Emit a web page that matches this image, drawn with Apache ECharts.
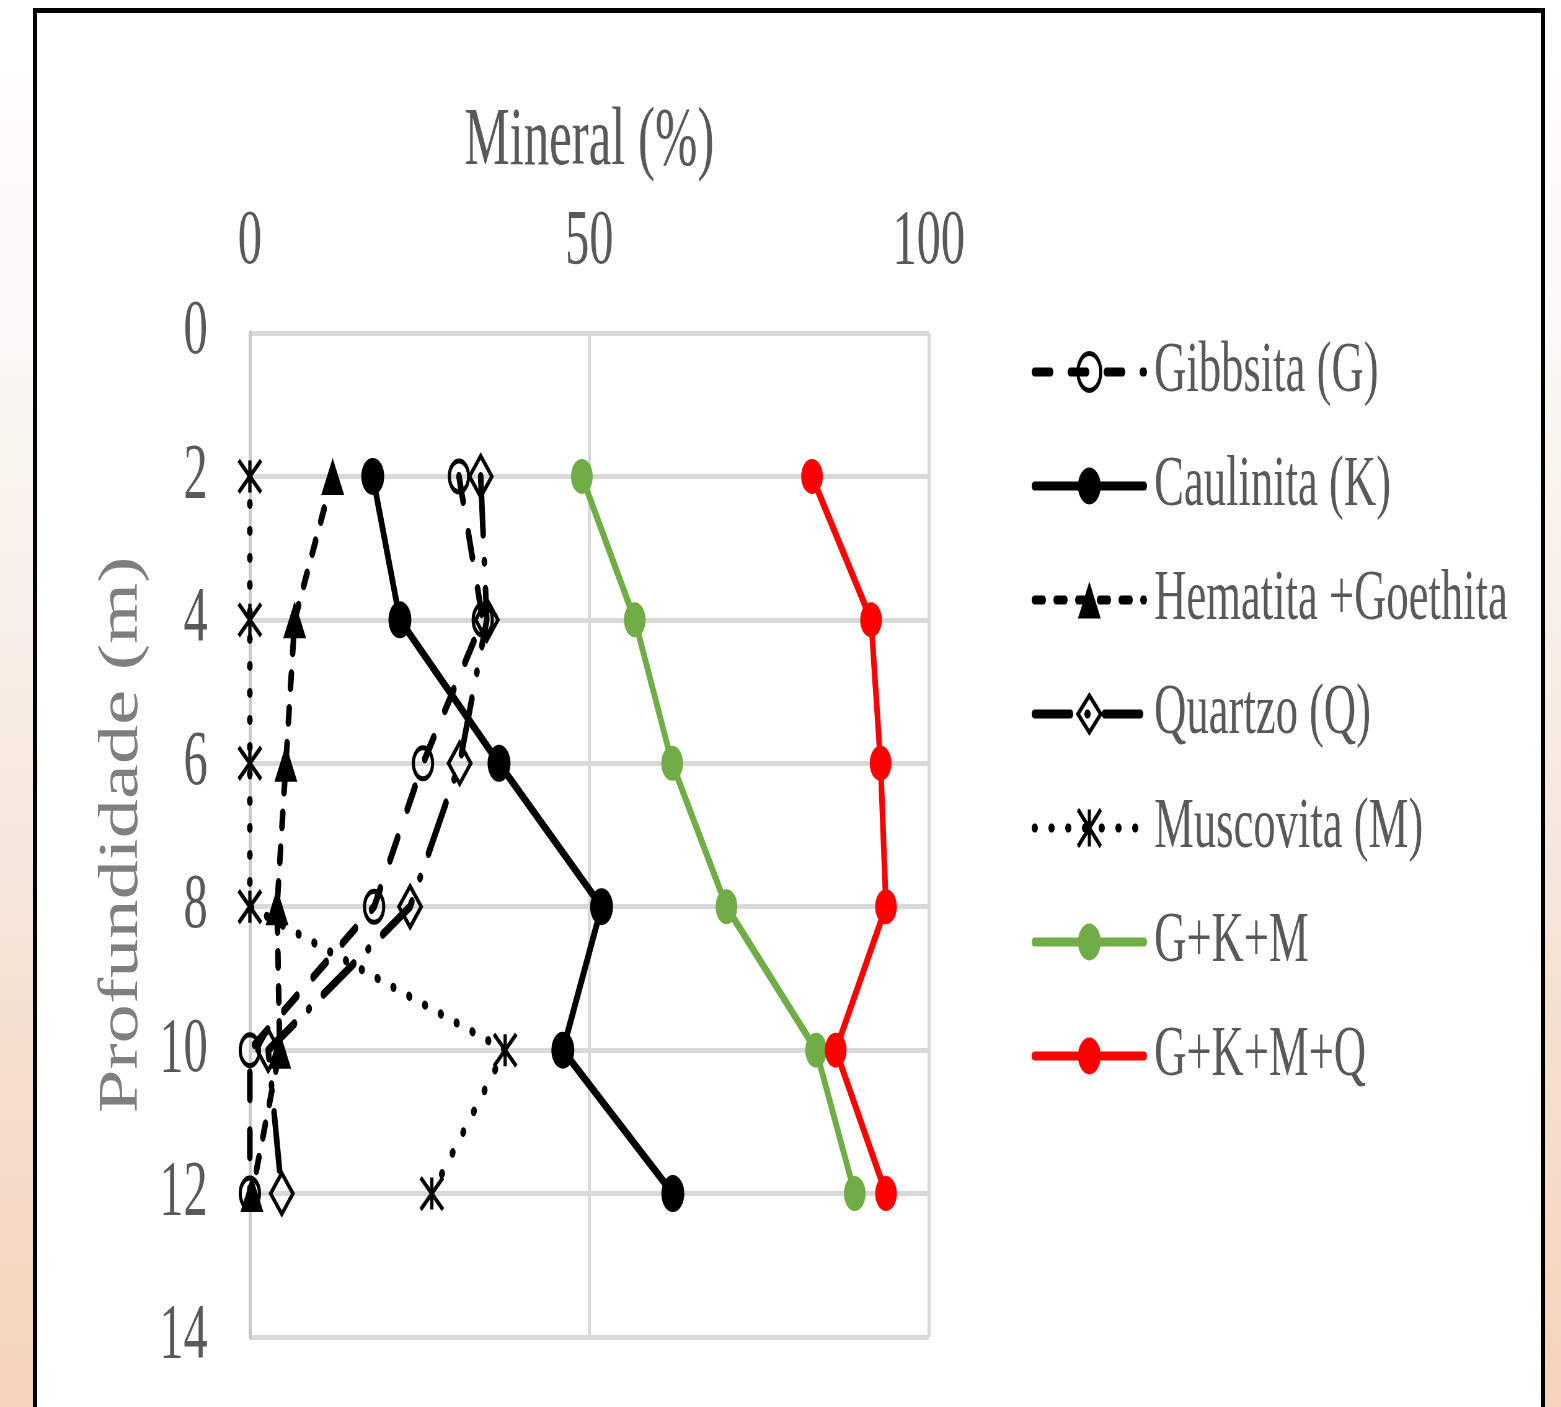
<!DOCTYPE html>
<html>
<head>
<meta charset="utf-8">
<title>Mineral (%) x Profundidade (m)</title>
<script src="https://cdn.jsdelivr.net/npm/echarts@6/dist/echarts.min.js"></script>
<style>
  html, body {
    margin: 0; padding: 0; width: 1561px; height: 1407px; overflow: hidden;
    background: linear-gradient(to bottom, #ffffff 0%, #fcf9f6 22%, #f5e8de 58%, #f6d3ba 100%);
  }
  #frame {
    position: absolute; left: 33px; top: 8px; width: 1504px; height: 1460px;
    background: #ffffff; border-style: solid; border-color: #000000;
    border-width: 5px 4px 0 4px;
  }
  /* the chart is laid out wide and then condensed horizontally */
  #chart {
    position: absolute; left: 0; top: 0; width: 2518px; height: 1407px;
    transform-origin: 0 0; transform: scaleX(0.62);
  }
</style>
</head>
<body>
<div id="frame"></div>
<div id="chart"></div>
<script>
// Depth of each sample (m)
const depths = [2, 4, 6, 8, 10, 12];

// Mineral content (%) at each depth
const gibbsita = [30.8, 34.3, 25.5, 18.3, 0, 0];
const caulinita = [18.1, 22.1, 36.7, 51.8, 46.1, 62.3];
const hematitaGoethita = [12.2, 6.6, 5.3, 4.0, 4.4, 0.3];
const quartzo = [34.0, 34.9, 30.9, 23.6, 2.7, 4.7];
const muscovita = [0, 0, 0, 0, 37.6, 26.8];
const somaGKM = [48.9, 56.7, 62.2, 70.2, 83.4, 89.1];
const somaGKMQ = [82.8, 91.5, 92.9, 93.7, 86.3, 93.7];

// Axis ticks
const mineralTicks = [0, 50, 100];
const depthTicks = [0, 2, 4, 6, 8, 10, 12, 14];

const FONT = '"Liberation Serif", "Times New Roman", serif';
const TEXT = '#595959';
const GRID = '#d9d9d9';
const LINE_W = 9;
const ASTERISK = 'path://M0,0L20,20M20,0L0,20M10,0L10,20';

const pairs = vals => vals.map((v, i) => [v, depths[i]]);

const hollow = { color: 'transparent', borderColor: '#000', borderWidth: 5 };

const seriesDefs = [
  { name: 'Gibbsita (G)', values: gibbsita, symbol: 'circle', size: 31,
    itemStyle: hollow, line: { color: '#000', type: [26, 32] } },
  { name: 'Caulinita (K)', values: caulinita, symbol: 'circle', size: 37,
    itemStyle: { color: '#000' }, line: { color: '#000', type: 'solid' } },
  { name: 'Hematita +Goethita', values: hematitaGoethita, symbol: 'triangle', size: 37,
    itemStyle: { color: '#000' }, line: { color: '#000', type: [14, 21] } },
  { name: 'Quartzo (Q)', values: quartzo, symbol: 'diamond', size: [36, 41],
    itemStyle: hollow, line: { color: '#000', type: [58, 27, 1, 27] } },
  { name: 'Muscovita (M)', values: muscovita, symbol: ASTERISK, size: [36, 32],
    itemStyle: hollow, line: { color: '#000', type: [1, 26] } },
  { name: 'G+K+M', values: somaGKM, symbol: 'circle', size: 35,
    itemStyle: { color: '#70AD47' }, line: { color: '#70AD47', type: 'solid' } },
  { name: 'G+K+M+Q', values: somaGKMQ, symbol: 'circle', size: 35,
    itemStyle: { color: '#FF0000' }, line: { color: '#FF0000', type: 'solid' } }
];

const chart = echarts.init(document.getElementById('chart'), null, { renderer: 'canvas' });

const option = {
  animation: false,
  backgroundColor: 'transparent',
  grid: { left: 403, top: 333, width: 1095, height: 1004, containLabel: false },
  xAxis: {
    type: 'value', position: 'top',
    min: mineralTicks[0], max: mineralTicks[mineralTicks.length - 1],
    interval: mineralTicks[1] - mineralTicks[0],
    name: 'Mineral (%)', nameLocation: 'middle', nameGap: 150,
    nameTextStyle: { fontFamily: FONT, fontSize: 82, color: TEXT },
    axisLine: { show: false }, axisTick: { show: false },
    axisLabel: { fontFamily: FONT, fontSize: 78, color: TEXT, margin: 51 },
    splitLine: { show: true, lineStyle: { color: GRID, width: 5 } }
  },
  yAxis: {
    type: 'value', inverse: true,
    min: depthTicks[0], max: depthTicks[depthTicks.length - 1],
    interval: depthTicks[1] - depthTicks[0],
    axisLine: { show: true, lineStyle: { color: '#c8c8c8', width: 5 } },
    axisTick: { show: false },
    axisLabel: { fontFamily: FONT, fontSize: 78, color: TEXT, margin: 68 },
    splitLine: { show: true, lineStyle: { color: GRID, width: 5 } }
  },
  legend: {
    orient: 'vertical', left: 1659, top: 331,
    itemWidth: 177, itemHeight: 46, itemGap: 42,
    textStyle: { fontFamily: FONT, fontSize: 72, color: TEXT, padding: [0, 0, 0, 11] },
    lineStyle: { width: LINE_W, cap: 'round', join: 'round' },
    data: seriesDefs.map(d => ({
      name: d.name,
      itemStyle: d.itemStyle.color === 'transparent'
        ? { color: 'transparent', borderColor: '#000', borderWidth: 5 }
        : { color: d.itemStyle.color, borderWidth: 0 }
    }))
  },
  graphic: [{
    type: 'text', x: 197, y: 835, rotation: Math.PI / 2, scaleX: 1.31, scaleY: 1.5,
    style: {
      text: 'Profundidade (m)', fontFamily: FONT, fontSize: 60,
      fill: '#7f7f7f', align: 'center', verticalAlign: 'middle'
    }
  }],
  series: seriesDefs.map(d => ({
    name: d.name, type: 'line',
    data: pairs(d.values),
    symbol: d.symbol, symbolSize: d.size,
    showAllSymbol: true,
    itemStyle: d.itemStyle,
    lineStyle: { color: d.line.color, width: LINE_W, type: d.line.type, cap: 'round', join: 'round' },
    emphasis: { disabled: true }
  }))
};

chart.setOption(option);
</script>
</body>
</html>
